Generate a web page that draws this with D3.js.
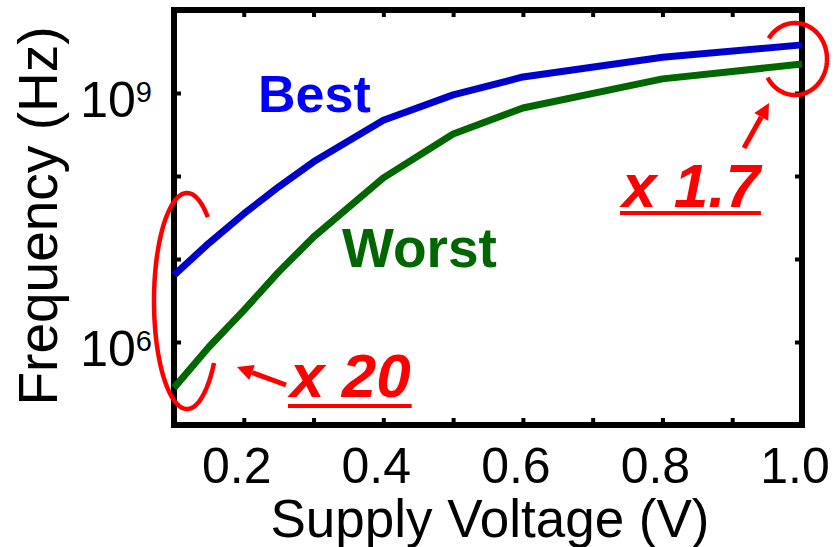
<!DOCTYPE html>
<html>
<head>
<meta charset="utf-8">
<script src="https://cdn.jsdelivr.net/npm/d3@7"></script>
<style>
  body { margin: 0; background: #fff; }
  svg { display: block; font-family: 'Liberation Sans', Arial, sans-serif; }
</style>
</head>
<body>
<div id="wrapper"></div>
<script>
/* DATA */
const voltage = [0.1, 0.15, 0.2, 0.25, 0.3, 0.4, 0.5, 0.6, 0.8, 1.0];
const bestFreq = [6.4e6, 1.55e7, 3.5e7, 7.4e7, 1.48e8, 4.7e8, 9.5e8, 1.56e9, 2.7e9, 3.8e9];
const worstFreq = [2.8e5, 8.7e5, 2.4e6, 7.0e6, 1.84e7, 9.5e7, 3.2e8, 6.6e8, 1.48e9, 2.23e9];
const xTicks = [0.2, 0.3, 0.4, 0.5, 0.6, 0.7, 0.8, 0.9];
const xLabels = [0.2, 0.4, 0.6, 0.8, 1.0];
const yTicks = [1e6, 1e7, 1e8, 1e9];
const yLabels = [1e6, 1e9];

function drawChart() {
  /* CHART DIMENSIONS */
  const dimensions = {
    width: 834,
    height: 547,
    left: 174,
    right: 802,
    top: 10,
    bottom: 425,
  };

  /* SCALES */
  const xScale = d3.scaleLinear()
    .domain([0.1, 1.0])
    .range([dimensions.left, dimensions.right]);

  const yScale = d3.scaleLog()
    .domain([1e5, 1e10])
    .range([dimensions.bottom, dimensions.top]);

  const svg = d3.select('#wrapper')
    .append('svg')
    .attr('width', dimensions.width)
    .attr('height', dimensions.height);

  /* FRAME + TICKS */
  const tickLen = 7;
  const axes = svg.append('g');

  const styleTicks = g => {
    g.select('.domain').remove();
    g.selectAll('.tick line').attr('stroke', '#000').attr('stroke-width', 4);
    g.selectAll('.tick text').remove();
  };

  axes.append('g')
    .attr('transform', `translate(0,${dimensions.bottom})`)
    .call(d3.axisBottom(xScale).tickValues(xTicks).tickSize(-tickLen))
    .call(styleTicks);
  axes.append('g')
    .attr('transform', `translate(0,${dimensions.top})`)
    .call(d3.axisTop(xScale).tickValues(xTicks).tickSize(-tickLen))
    .call(styleTicks);
  axes.append('g')
    .attr('transform', `translate(${dimensions.left},0)`)
    .call(d3.axisLeft(yScale).tickValues(yTicks).tickSize(-tickLen))
    .call(styleTicks);
  axes.append('g')
    .attr('transform', `translate(${dimensions.right},0)`)
    .call(d3.axisRight(yScale).tickValues(yTicks).tickSize(-tickLen))
    .call(styleTicks);

  axes.append('rect')
    .attr('x', dimensions.left)
    .attr('y', dimensions.top)
    .attr('width', dimensions.right - dimensions.left)
    .attr('height', dimensions.bottom - dimensions.top)
    .attr('fill', 'none')
    .attr('stroke', '#000')
    .attr('stroke-width', 6);

  /* TICK LABELS */
  svg.append('g')
    .selectAll('text')
    .data(xLabels)
    .join('text')
    .attr('x', d => xScale(d) - 7)
    .attr('y', 483)
    .attr('text-anchor', 'middle')
    .attr('font-size', 50)
    .text(d3.format('.1f'));

  const yLab = svg.append('g')
    .selectAll('text')
    .data(yLabels)
    .join('text')
    .attr('x', 152)
    .attr('y', d => yScale(d) + 24)
    .attr('text-anchor', 'end')
    .attr('font-size', 50);
  yLab.append('tspan').text('10');
  yLab.append('tspan')
    .attr('font-size', 29)
    .attr('dy', -15)
    .text(d => Math.round(Math.log10(d)));

  /* AXIS TITLES */
  svg.append('text')
    .attr('x', 490)
    .attr('y', 537)
    .attr('text-anchor', 'middle')
    .attr('font-size', 53)
    .text('Supply Voltage (V)');

  svg.append('text')
    .attr('transform', 'translate(57,216) rotate(-90)')
    .attr('text-anchor', 'middle')
    .attr('font-size', 55)
    .text('Frequency (Hz)');

  /* LINES */
  const lineGenerator = d3.line()
    .x(d => xScale(d[0]))
    .y(d => yScale(d[1]));

  const series = [
    { values: bestFreq, color: '#0000cc' },
    { values: worstFreq, color: '#006600' },
  ];

  svg.append('g')
    .selectAll('path')
    .data(series)
    .join('path')
    .attr('d', s => lineGenerator(d3.zip(voltage, s.values)))
    .attr('fill', 'none')
    .attr('stroke', s => s.color)
    .attr('stroke-width', 7)
    .attr('stroke-linejoin', 'round');

  /* LABELS */
  svg.append('text')
    .attr('x', 258).attr('y', 112)
    .attr('font-size', 52).attr('font-weight', 'bold')
    .attr('fill', '#0000ff')
    .text('Best');
  svg.append('text')
    .attr('x', 342).attr('y', 267)
    .attr('font-size', 55).attr('font-weight', 'bold')
    .attr('fill', '#006600')
    .text('Worst');

  /* ANNOTATIONS */
  const red = '#ff0000';
  const note = svg.append('g');

  const ellipseArc = (cx, cy, rx, ry, a0, a1) => {
    const toRad = Math.PI / 180;
    return d3.line()(d3.range(a0, a1 + 1, 2).map(a =>
      [cx + rx * Math.cos(a * toRad), cy + ry * Math.sin(a * toRad)]));
  };

  note.append('path')
    .attr('d', ellipseArc(187, 301, 33, 108, 35, 310))
    .attr('fill', 'none').attr('stroke', red).attr('stroke-width', 4.5);
  note.append('path')
    .attr('d', ellipseArc(795, 59, 32, 36, 215, 510))
    .attr('fill', 'none').attr('stroke', red).attr('stroke-width', 4.5);

  const arrow = (x1, y1, x2, y2) => {
    const ang = Math.atan2(y2 - y1, x2 - x1);
    const len = 16, half = 8;
    const bx = x2 - len * Math.cos(ang), by = y2 - len * Math.sin(ang);
    note.append('line')
      .attr('x1', x1).attr('y1', y1).attr('x2', bx).attr('y2', by)
      .attr('stroke', red).attr('stroke-width', 5);
    note.append('path')
      .attr('d', `M${x2},${y2}L${bx + half * Math.sin(ang)},${by - half * Math.cos(ang)}L${bx - half * Math.sin(ang)},${by + half * Math.cos(ang)}Z`)
      .attr('fill', red);
  };
  arrow(286, 385, 237, 367);
  arrow(744, 148, 769, 103);

  const callout = (x, y, label, uy) => {
    const t = note.append('text')
      .attr('x', x).attr('y', y)
      .attr('font-size', 62)
      .attr('font-weight', 'bold')
      .attr('font-style', 'italic')
      .attr('fill', red)
      .text(label);
    const w = t.node().getComputedTextLength();
    note.append('line')
      .attr('x1', x - 2).attr('x2', x + w + 1)
      .attr('y1', uy).attr('y2', uy)
      .attr('stroke', red).attr('stroke-width', 4);
  };
  callout(290, 397, 'x 20', 406);
  callout(622, 207, 'x 1.7', 213);
}

drawChart();
</script>
</body>
</html>
